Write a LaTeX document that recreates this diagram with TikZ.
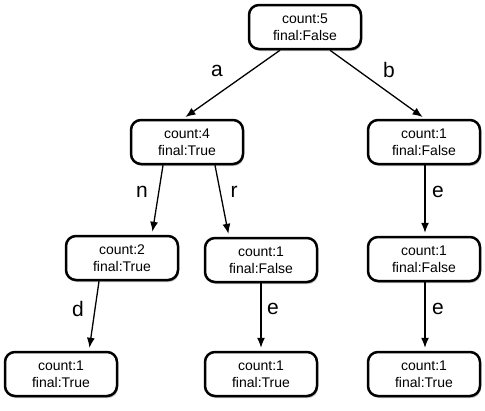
\documentclass[tikz,border=0pt]{standalone}
\usepackage{fontspec}
\setmainfont{Liberation Sans}
\usetikzlibrary{arrows.meta,shadows}
\begin{document}
\begin{tikzpicture}[x=1pt,y=-1pt,
  trienode/.style={draw=black, line width=2.5pt, rounded corners=10pt, fill=white,
    minimum width=112pt, minimum height=44pt, align=center, inner sep=2pt,
    font=\fontsize{14}{16.5}\selectfont,
    drop shadow={shadow xshift=1pt, shadow yshift=-2pt, opacity=0.25, fill=black}},
  edge/.style={line width=1.3pt, -{Latex[length=10pt,width=8pt]}, shorten >=3pt},
  lbl/.style={font=\fontsize{21}{24}\selectfont, inner sep=0pt}]
\useasboundingbox (0,0) rectangle (485,410);
\node[trienode] (root) at (305,27) {count:5\\final:False};
\node[trienode] (n4) at (187,142) {count:4\\final:True};
\node[trienode] (b1) at (424,142) {count:1\\final:False};
\node[trienode] (c2) at (122,258) {count:2\\final:True};
\node[trienode] (r1) at (261,260) {count:1\\final:False};
\node[trienode] (e1) at (424,259) {count:1\\final:False};
\node[trienode] (d1) at (61,374) {count:1\\final:True};
\node[trienode] (re) at (261,374) {count:1\\final:True};
\node[trienode] (ee) at (424,374) {count:1\\final:True};
\draw[edge] ([xshift=-25pt]root.south) -- ([xshift=-4pt]n4.north);
\draw[edge] ([xshift=25pt]root.south) -- ([xshift=1pt]b1.north);
\draw[edge] ([xshift=-24pt]n4.south) -- ([xshift=30pt]c2.north);
\draw[edge] ([xshift=28pt]n4.south) -- ([xshift=-32pt]r1.north);
\draw[edge] ([xshift=-23pt]c2.south) -- ([xshift=28pt]d1.north);
\draw[edge] (r1.south) -- (re.north);
\draw[edge] ([xshift=1pt]b1.south) -- ([xshift=1pt]e1.north);
\draw[edge] ([xshift=1pt]e1.south) -- ([xshift=1pt]ee.north);
\node[lbl] (la) at (217,71) {a};
\node[lbl] (lb) at (389,70) {b};
\node[lbl] (ln) at (142,192) {n};
\node[lbl] (lr) at (234,192) {r};
\node[lbl] (le1) at (438,192) {e};
\node[lbl] (ld) at (78,309) {d};
\node[lbl] (le2) at (273,309) {e};
\node[lbl] (le3) at (438,309) {e};
\end{tikzpicture}
\end{document}
